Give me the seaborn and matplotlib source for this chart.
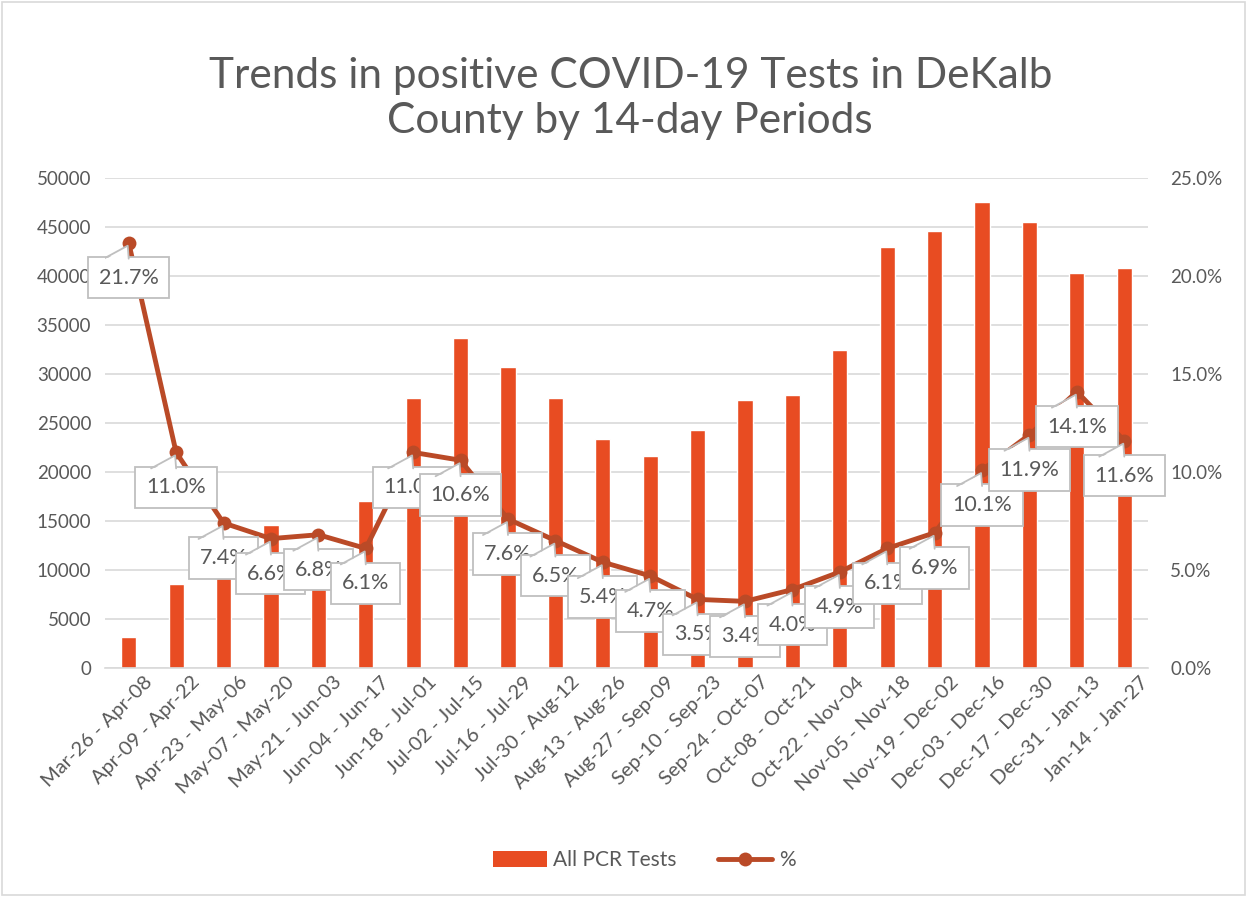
import numpy as np
import pandas as pd
import matplotlib
matplotlib.use("Agg")
import matplotlib.pyplot as plt
import matplotlib.transforms as mtransforms
import seaborn as sns
from matplotlib.patches import Patch, Rectangle, Polygon
from matplotlib.lines import Line2D
from matplotlib.ticker import FuncFormatter

# data
periods = ["Mar-26 - Apr-08", "Apr-09 - Apr-22", "Apr-23 - May-06", "May-07 - May-20",
           "May-21 - Jun-03", "Jun-04 - Jun-17", "Jun-18 - Jul-01", "Jul-02 - Jul-15",
           "Jul-16 - Jul-29", "Jul-30 - Aug-12", "Aug-13 - Aug-26", "Aug-27 - Sep-09",
           "Sep-10 - Sep-23", "Sep-24 - Oct-07", "Oct-08 - Oct-21", "Oct-22 - Nov-04",
           "Nov-05 - Nov-18", "Nov-19 - Dec-02", "Dec-03 - Dec-16", "Dec-17 - Dec-30",
           "Dec-31 - Jan-13", "Jan-14 - Jan-27"]
pcr_tests = [3200, 8600, 10500, 14600, 9200, 17000, 27600, 33700, 30700, 27600, 23400,
             21600, 24300, 27300, 27900, 32400, 43000, 44600, 47500, 45500, 40300, 40800]
pct_positive = [21.7, 11.0, 7.4, 6.6, 6.8, 6.1, 11.0, 10.6, 7.6, 6.5, 5.4, 4.7, 3.5, 3.4,
                4.0, 4.9, 6.1, 6.9, 10.1, 11.9, 14.1, 11.6]

bar_color = "#E84C22"
line_color = "#BA4A27"
text_color = "#595959"
grid_color = "#D9D9D9"
callout_edge = "#BFBFBF"

sns.set_style("white")
plt.rcParams["font.family"] = ["Lato", "DejaVu Sans"]

df = pd.DataFrame({"period": periods, "tests": pcr_tests, "pct": pct_positive})
df["pos"] = np.arange(len(df))

fig = plt.figure(figsize=(12.53, 8.99), dpi=100)
ax = fig.add_axes([105 / 1253, 1 - 668 / 899, (1148 - 105) / 1253, (668 - 178) / 899])

sns.barplot(data=df, x="period", y="tests", ax=ax, color=bar_color, width=0.32,
            saturation=1, zorder=2)
ax.set_ylim(0, 50000)
ax.set_yticks(np.arange(0, 50001, 5000))
ax.set_xlim(-0.5, len(df) - 0.5)
ax.grid(axis="y", color=grid_color, linewidth=1.2, zorder=0)
ax.set_axisbelow(True)
ax.set_xlabel("")
ax.set_ylabel("")
for s in ["top", "left", "right"]:
    ax.spines[s].set_visible(False)
ax.spines["bottom"].set_color(grid_color)
ax.spines["bottom"].set_linewidth(1.2)
ax.tick_params(axis="y", length=0, labelsize=13.5, colors=text_color, pad=10)
ax.tick_params(axis="x", length=0, labelsize=14.5, colors=text_color, pad=4)
shift = mtransforms.ScaledTranslation(15 / 100, 0, fig.dpi_scale_trans)
for lbl in ax.get_xticklabels():
    lbl.set_rotation(45)
    lbl.set_ha("right")
    lbl.set_rotation_mode("anchor")
    lbl.set_transform(lbl.get_transform() + shift)

ax2 = ax.twinx()
sns.lineplot(data=df, x="pos", y="pct", ax=ax2, color=line_color, linewidth=3.5,
             marker="o", markersize=10, markeredgewidth=0, zorder=2)
ax2.set_ylim(0, 25)
ax2.set_yticks(np.arange(0, 25.1, 5))
ax2.yaxis.set_major_formatter(FuncFormatter(lambda v, p: f"{v:.1f}%"))
ax2.set_xlim(-0.5, len(df) - 0.5)
ax2.set_ylabel("")
ax2.set_xlabel("")
for s in ["top", "left", "right", "bottom"]:
    ax2.spines[s].set_visible(False)
ax2.tick_params(axis="y", length=0, labelsize=13.5, colors=text_color, pad=16)

# callout data labels: box below the point, pointer from its top-left edge
px = 1 / 100  # one pixel in inches
for i, v in enumerate(pct_positive):
    z = 5 + i * 0.02
    ax2.annotate(f"{v:.1f}%", xy=(i, v), xytext=(0, -35), textcoords="offset pixels",
                 ha="center", va="center", fontsize=15.5, color=text_color, zorder=z,
                 bbox=dict(boxstyle="square,pad=0.5", fc="white", ec=callout_edge, lw=1.3))
    at_point = fig.dpi_scale_trans + mtransforms.ScaledTranslation(i, v, ax2.transData)
    fill = Polygon([(-25 * px, -18 * px), (-1 * px, -3 * px), (0, -18 * px)],
                   closed=True, fc="white", ec="none", transform=at_point, zorder=z + 0.01)
    edge = Line2D([-25 * px, -1 * px, 0], [-16 * px, -3 * px, -16 * px],
                  color=callout_edge, lw=1.3, transform=at_point, zorder=z + 0.01)
    ax2.add_patch(fill)
    ax2.add_line(edge)

fig.suptitle("Trends in positive COVID-19 Tests in DeKalb\nCounty by 14-day Periods",
             x=0.503, y=0.937, fontsize=30.5, color=text_color, linespacing=1.25)

handles = [Patch(facecolor=bar_color, edgecolor="none"),
           Line2D([0], [0], color=line_color, lw=3.5, marker="o", markersize=10,
                  markeredgewidth=0)]
fig.legend(handles, ["All PCR Tests", "%"], loc="center", bbox_to_anchor=(0.514, 0.043),
           ncol=2, frameon=False, fontsize=15, labelcolor=text_color,
           handlelength=2.6, handleheight=0.8, columnspacing=2.0, handletextpad=0.3)

fig.patches.append(Rectangle((2 / 1253, 4 / 899), 1243 / 1253, 893 / 899,
                             transform=fig.transFigure, fill=False,
                             ec="#D9D9D9", lw=1.2))

fig.savefig("out.png", dpi=100)
